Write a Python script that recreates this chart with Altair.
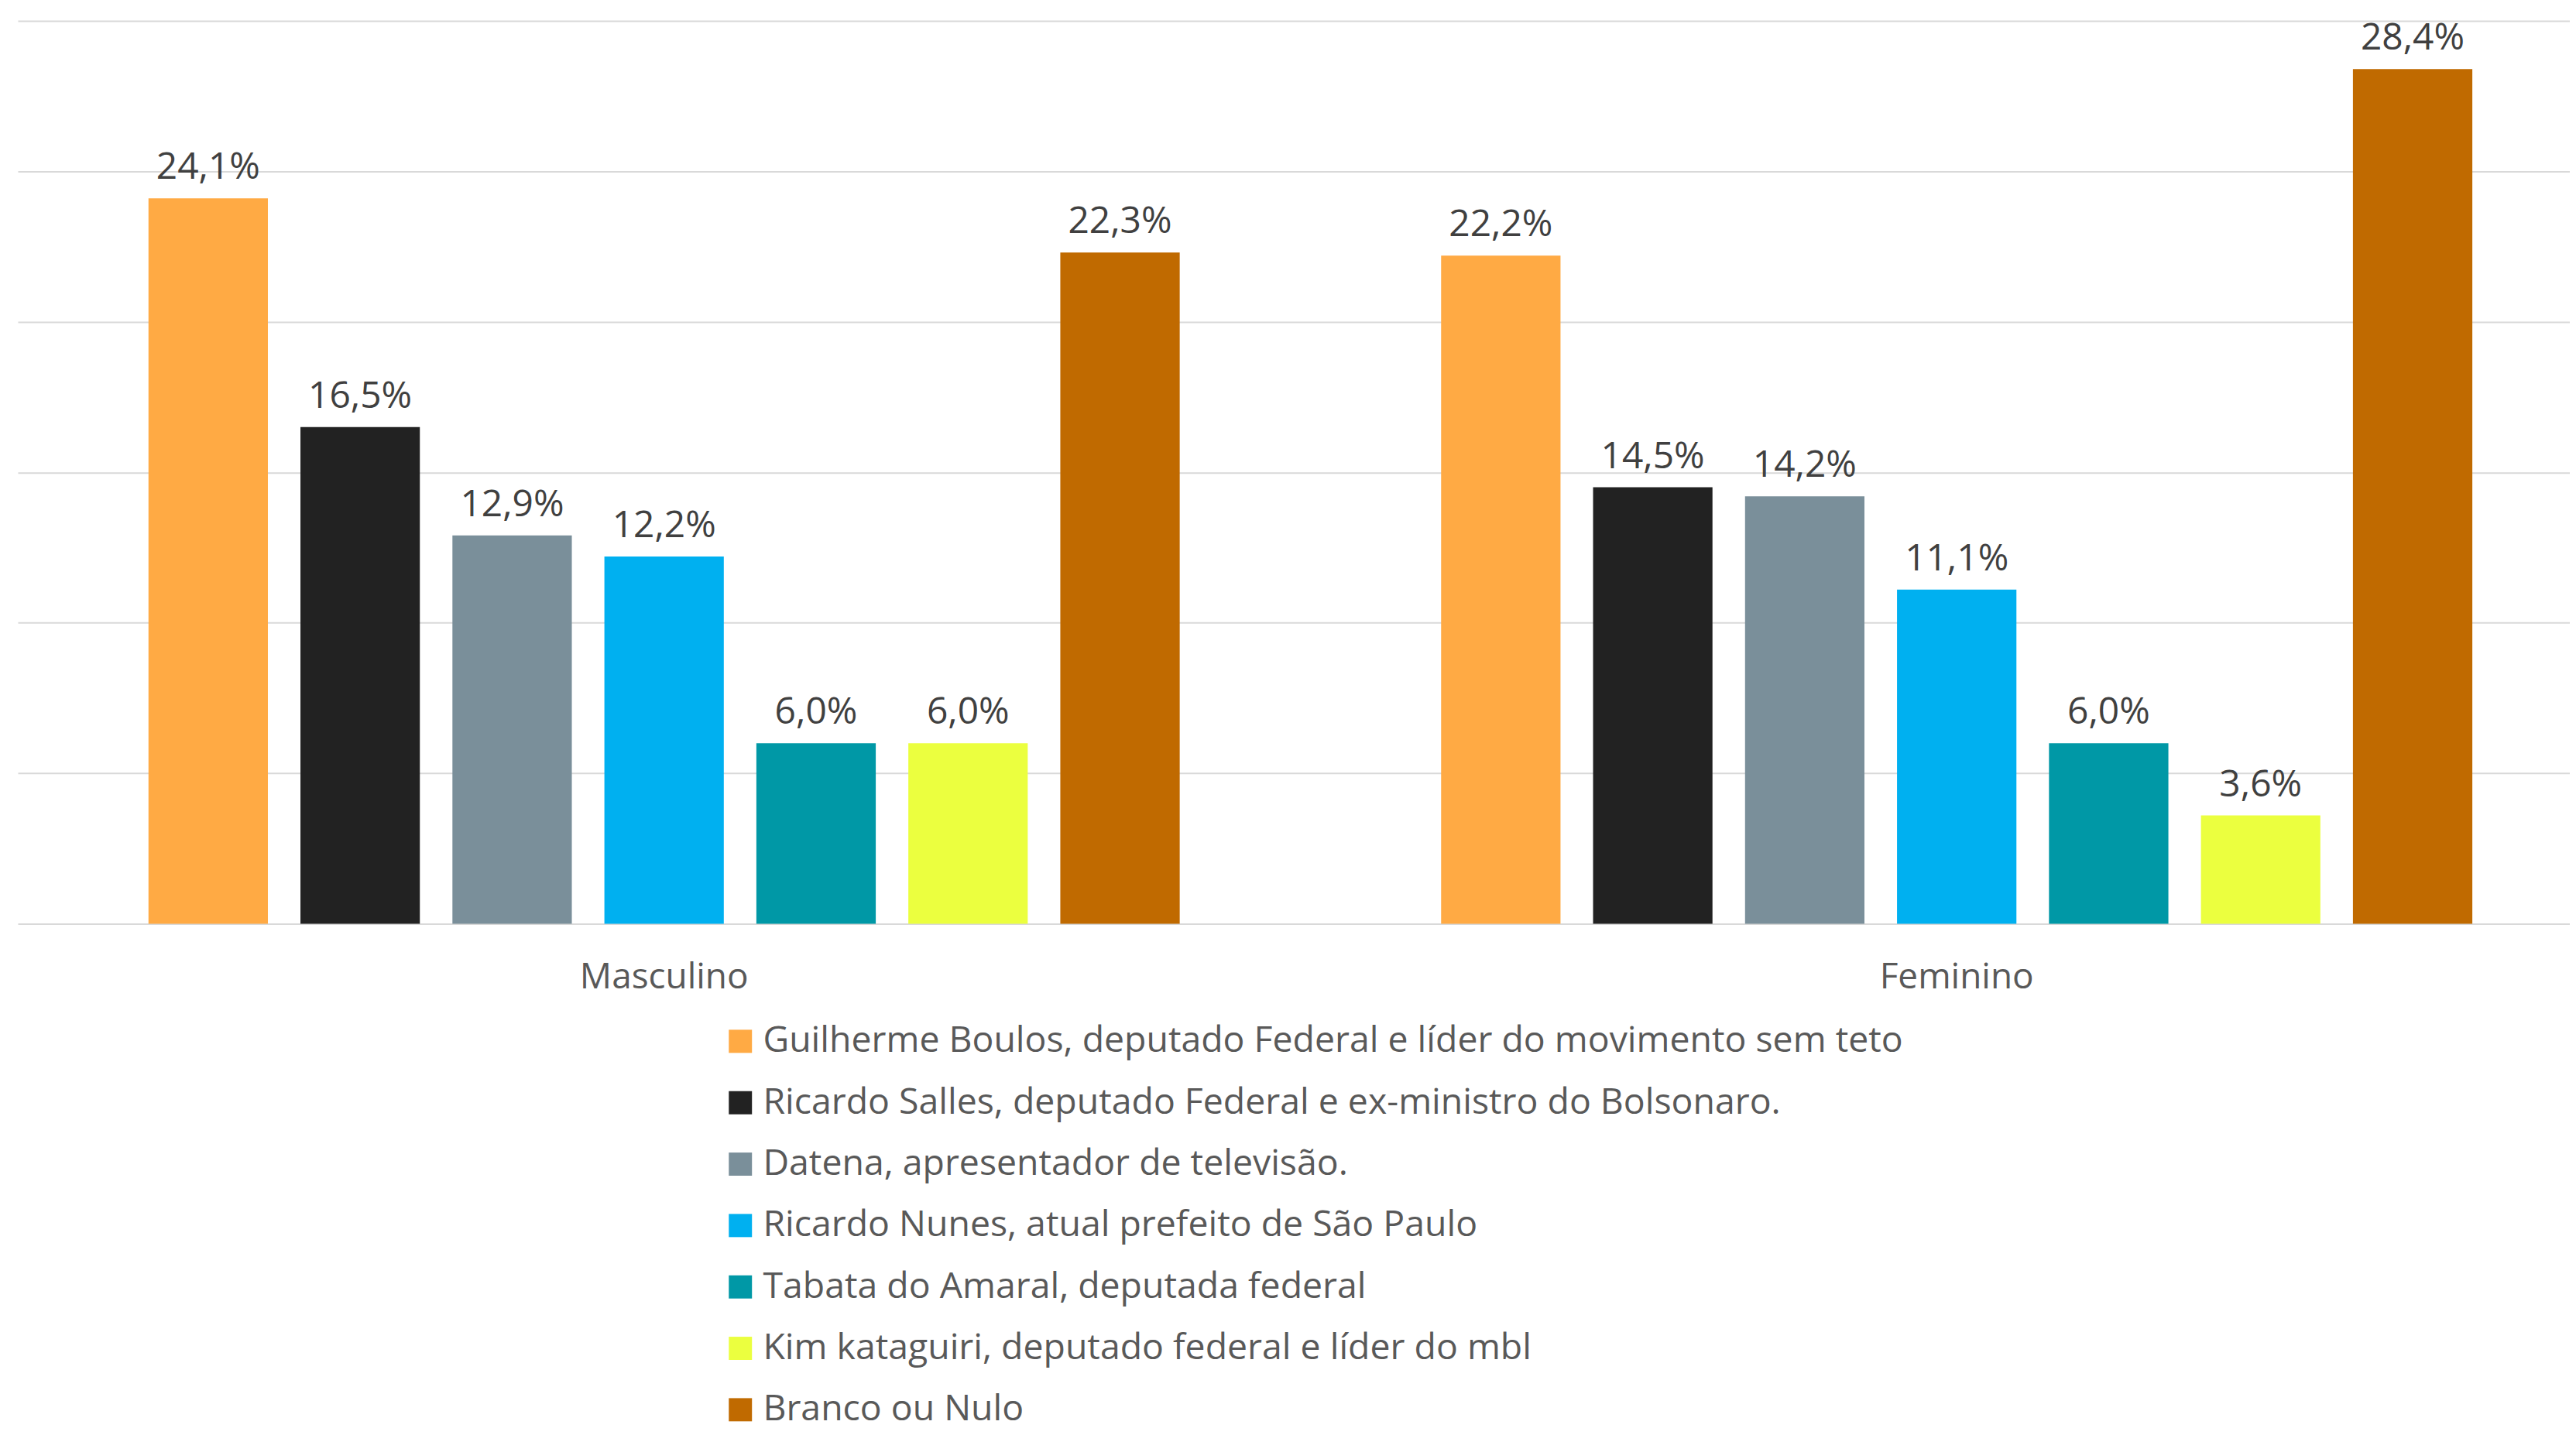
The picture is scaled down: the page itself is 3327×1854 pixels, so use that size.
import altair as alt
import pandas as pd

genders = ["Masculino", "Feminino"]
candidates = [
    "Guilherme Boulos, deputado Federal e líder do movimento sem teto",
    "Ricardo Salles, deputado Federal e ex-ministro do Bolsonaro.",
    "Datena, apresentador de televisão.",
    "Ricardo Nunes, atual prefeito de São Paulo",
    "Tabata do Amaral, deputada federal",
    "Kim kataguiri, deputado federal e líder do mbl",
    "Branco ou Nulo",
]
masculino = [24.1, 16.5, 12.9, 12.2, 6.0, 6.0, 22.3]
feminino = [22.2, 14.5, 14.2, 11.1, 6.0, 3.6, 28.4]
colors = ["#FFAA44", "#222222", "#7A8F9A", "#00B0F0", "#0098A6", "#EBFF3F", "#C06A00"]

rows = []
for g, vals in zip(genders, [masculino, feminino]):
    for c, v in zip(candidates, vals):
        rows.append({"Gênero": g, "Candidato": c, "Valor": v,
                     "Rótulo": f"{v:.1f}%".replace(".", ",")})
df = pd.DataFrame(rows)

FONT = "Open Sans"

x = alt.X("Gênero:N", sort=genders,
          scale=alt.Scale(paddingInner=0, paddingOuter=0),
          axis=alt.Axis(title=None, labelAngle=0, ticks=False, domain=False,
                        labelFontSize=46, labelFont=FONT, labelColor="#595959",
                        labelPadding=47, labelLimit=1000))
xo = alt.XOffset("Candidato:N", sort=candidates,
                 scale=alt.Scale(paddingInner=0.2143, paddingOuter=0.86))
y = alt.Y("Valor:Q", scale=alt.Scale(domain=[0, 30]),
          axis=alt.Axis(values=[0, 5, 10, 15, 20, 25, 30], labels=False, ticks=False,
                        domain=False, grid=True, gridColor="#d9d9d9", gridWidth=2,
                        title=None))

bars = alt.Chart(df).mark_bar().encode(
    x=x, xOffset=xo, y=y,
    color=alt.Color("Candidato:N", sort=candidates,
                    scale=alt.Scale(domain=candidates, range=colors),
                    legend=alt.Legend(title=None, orient="none", legendX=912, legendY=1298,
                                      direction="vertical", symbolType="square",
                                      symbolSize=900, symbolStrokeWidth=0,
                                      labelFontSize=46.5, labelFont=FONT,
                                      labelColor="#595959", labelOffset=6,
                                      labelLimit=3000, rowPadding=32.5, padding=0)),
)

labels = alt.Chart(df).mark_text(baseline="alphabetic", dy=-25, fontSize=48,
                                 font=FONT, color="#404040").encode(
    x=x, xOffset=xo, y=y, text="Rótulo:N")

chart = alt.layer(bars, labels).properties(
    width=3346, height=1169,
    autosize=alt.AutoSizeParams(type="none"),
    padding={"left": 15, "top": 17, "right": -43, "bottom": 660},
).configure_view(stroke=None)

chart.save("out.html", embed_options={"renderer": "svg", "actions": False})
